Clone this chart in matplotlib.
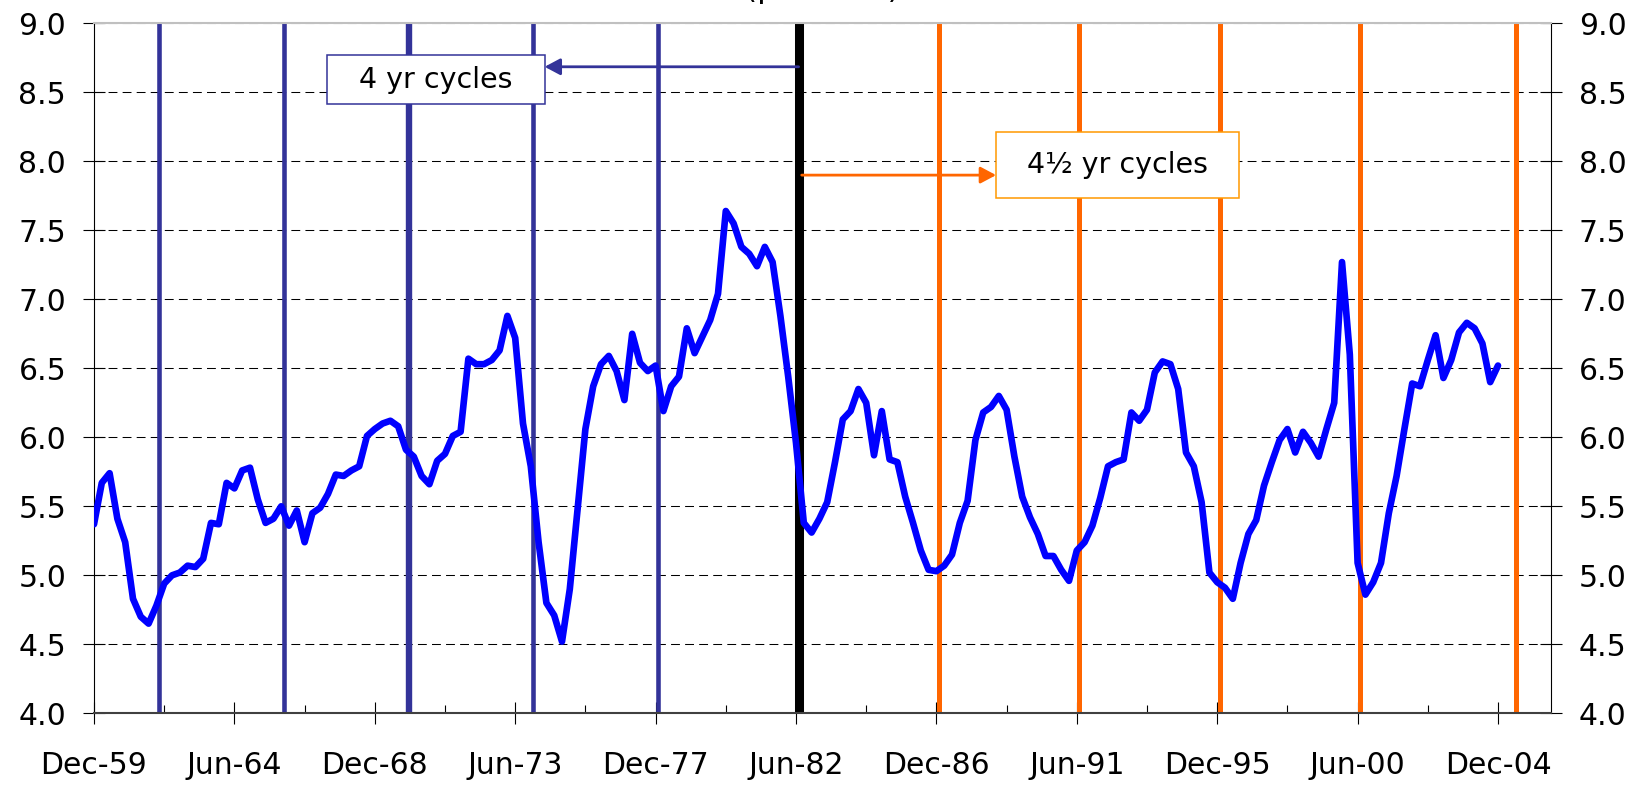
import numpy as np
import matplotlib.pyplot as plt
from matplotlib.patches import Rectangle

# quarterly series, Dec-59 .. Dec-04
values = [
    5.37, 5.67, 5.74, 5.41, 5.24, 4.83, 4.70, 4.65, 4.78, 4.94,
    5.00, 5.02, 5.07, 5.06, 5.12, 5.38, 5.37, 5.67, 5.63, 5.76,
    5.78, 5.55, 5.38, 5.41, 5.50, 5.36, 5.47, 5.24, 5.45, 5.49,
    5.59, 5.73, 5.72, 5.76, 5.79, 6.01, 6.06, 6.10, 6.12, 6.08,
    5.91, 5.86, 5.72, 5.66, 5.83, 5.88, 6.01, 6.04, 6.57, 6.53,
    6.53, 6.56, 6.63, 6.88, 6.72, 6.10, 5.79, 5.24, 4.80, 4.71,
    4.52, 4.90, 5.48, 6.06, 6.37, 6.53, 6.59, 6.48, 6.27, 6.75,
    6.54, 6.48, 6.52, 6.19, 6.37, 6.44, 6.79, 6.61, 6.73, 6.85,
    7.04, 7.64, 7.55, 7.38, 7.33, 7.24, 7.38, 7.27, 6.88, 6.44,
    5.96, 5.38, 5.31, 5.41, 5.53, 5.82, 6.13, 6.19, 6.35, 6.25,
    5.87, 6.19, 5.84, 5.82, 5.57, 5.38, 5.18, 5.04, 5.03, 5.07,
    5.15, 5.38, 5.54, 5.98, 6.18, 6.22, 6.30, 6.20, 5.86, 5.57,
    5.42, 5.30, 5.14, 5.14, 5.04, 4.96, 5.18, 5.24, 5.36, 5.56,
    5.79, 5.82, 5.84, 6.18, 6.12, 6.20, 6.47, 6.55, 6.53, 6.35,
    5.89, 5.79, 5.53, 5.02, 4.95, 4.91, 4.83, 5.09, 5.30, 5.40,
    5.65, 5.82, 5.98, 6.06, 5.89, 6.04, 5.96, 5.86, 6.06, 6.25,
    7.27, 6.60, 5.09, 4.86, 4.95, 5.09, 5.45, 5.72, 6.06, 6.39,
    6.37, 6.56, 6.74, 6.43, 6.56, 6.76, 6.83, 6.79, 6.68, 6.40,
    6.52,
]
start_year = 1959.917  # Dec-59
quarters = start_year + 0.25 * np.arange(len(values))

tick_labels = ['Dec-59', 'Jun-64', 'Dec-68', 'Jun-73', 'Dec-77', 'Jun-82',
               'Dec-86', 'Jun-91', 'Dec-95', 'Jun-00', 'Dec-04']
tick_years = start_year + 4.5 * np.arange(len(tick_labels))

# cycle markers
four_yr_cycles = [1962.0, 1966.0, 1970.0, 1974.0, 1978.0]
break_year = 1982.5
four_half_yr_cycles = [1987.0, 1991.5, 1996.0, 2000.5, 2005.5]

fig = plt.figure(figsize=(16.49, 7.85), dpi=100)
ax = fig.add_axes([0.0570, 0.0913, 0.8836, 0.8790])

# dashed horizontal gridlines
ax.yaxis.grid(True, color='black', lw=0.75, linestyle=(0, (8.5, 5)))
ax.set_axisbelow(True)

# cycle lines
for yr in four_yr_cycles:
    ax.axvline(yr, color='#333399', lw=4.6 if yr == 1970.0 else 3.3, zorder=2)
ax.axvline(break_year, color='black', lw=6.5, zorder=2)
for yr in four_half_yr_cycles:
    ax.axvline(yr, color='#FF6600', lw=3.6, zorder=2)

# the series
ax.plot(quarters, values, color='#0000FF', lw=4.8, zorder=4,
        solid_joinstyle='round', solid_capstyle='round')

# labelled boxes with arrows
ax.add_patch(Rectangle((1967.37, 8.415), 6.99, 0.355, facecolor='white',
                       edgecolor='#333399', lw=1.1, zorder=5))
ax.text(1970.86, 8.59, '4 yr cycles', ha='center', va='center',
        fontsize=20.5, zorder=6)
ax.annotate('', xy=(1974.36, 8.685), xytext=(break_year, 8.685),
            arrowprops=dict(arrowstyle='-|>,head_length=0.47,head_width=0.25',
                            color='#333399', lw=2, shrinkA=0, shrinkB=0,
                            mutation_scale=20), zorder=6)

ax.add_patch(Rectangle((1988.83, 7.736), 7.79, 0.479, facecolor='white',
                       edgecolor='#FF9900', lw=1.1, zorder=5))
ax.text(1992.72, 7.975, '4\u00bd yr cycles', ha='center', va='center',
        fontsize=20.5, zorder=6)
ax.annotate('', xy=(1988.83, 7.90), xytext=(break_year + 0.1, 7.90),
            arrowprops=dict(arrowstyle='-|>,head_length=0.47,head_width=0.25',
                            color='#FF6600', lw=2, shrinkA=0, shrinkB=0,
                            mutation_scale=20), zorder=6)

# axes styling
ax.spines['top'].set_color('#C0C0C0')
ax.spines['top'].set_linewidth(1.5)
ax.spines['bottom'].set_color('#404040')
ax.spines['bottom'].set_linewidth(1.5)
ax.spines['left'].set_linewidth(0.8)
ax.spines['right'].set_linewidth(0.8)

ax.set_xticks(tick_years)
ax.set_xticklabels(tick_labels)
ax.set_xticks(start_year + 2.25 + 4.5 * np.arange(len(tick_labels) - 1), minor=True)
ax.set_yticks(np.arange(4, 9.01, 0.5))
ax.set_yticklabels([f'{v:.1f}' for v in np.arange(4, 9.01, 0.5)])

# limits last, so the tick setters can't widen them
ax.set_xlim(start_year, start_year + 46.7)
ax.set_ylim(4, 9)

ax.tick_params(axis='x', which='major', direction='inout', length=16,
               width=0.8, pad=19, labelsize=21.5)
ax.tick_params(axis='x', which='minor', direction='in', length=6, width=0.8)
ax.tick_params(axis='y', which='major', direction='inout', length=16,
               width=0.8, pad=12, labelsize=21.5, left=True, right=True,
               labelleft=True, labelright=True)

# title, mostly cut off by the top edge in the original
fig.text(0.4985, 1.0 + 2 / 785, '(per cent)', ha='center', va='baseline',
         fontsize=22.5)

fig.savefig('out.png', dpi=100)
